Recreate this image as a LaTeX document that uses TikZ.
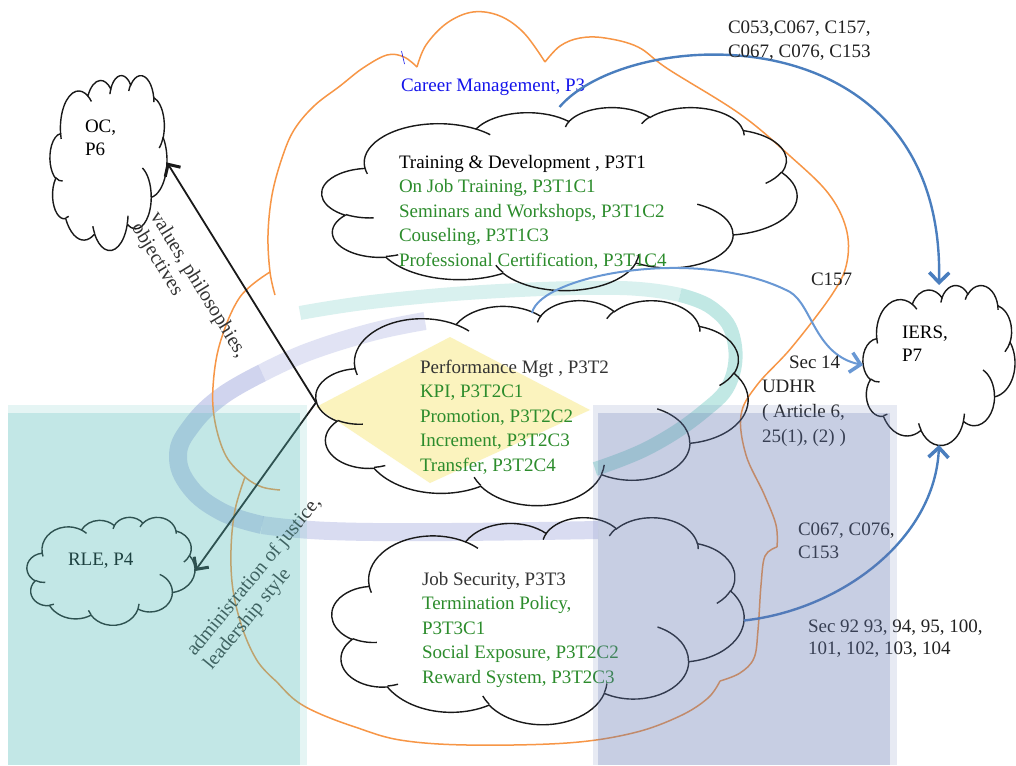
\documentclass[tikz,border=0pt]{standalone}
\usepackage{fontspec}
\setmainfont{Liberation Serif}
\usetikzlibrary{arrows.meta,calc}

\definecolor{orangeline}{RGB}{247,150,70}
\definecolor{blueline}{RGB}{74,126,190}
\definecolor{lightblueline}{RGB}{105,152,212}
\definecolor{itemgreen}{RGB}{44,140,44}
\definecolor{headgray}{RGB}{51,51,51}
\definecolor{labelgray}{RGB}{34,34,34}
\definecolor{careerblue}{RGB}{20,20,235}
\definecolor{tealpanel}{RGB}{86,189,186}
\definecolor{navypanel}{RGB}{98,119,177}
\definecolor{swooshteal}{RGB}{160,220,215}
\definecolor{swooshlav}{RGB}{180,186,228}
\definecolor{diamondyellow}{RGB}{251,243,190}

% one arc of the office-style cloud outline: radii in shape units (box = 4320),
% start and sweep angle measured as seen from the arc's centre
\newcommand\pptarc[4]{%
  arc[start angle={-atan2((#1)*sin(#3),(#2)*cos(#3))},
      delta angle={-mod(atan2((#1)*sin((#3)+(#4)),(#2)*cos((#3)+(#4)))-atan2((#1)*sin(#3),(#2)*cos(#3))+720,360)},
      x radius={(#1)*\cloudsx*1pt}, y radius={(#2)*\cloudsy*1pt}]}

% cloud in a box: node name, left, top, width, height
\newcommand\pptcloud[5]{%
  \pgfmathsetmacro\cloudx{#2}%
  \pgfmathsetmacro\cloudy{#3}%
  \pgfmathsetmacro\cloudsx{(#4)/4320}%
  \pgfmathsetmacro\cloudsy{(#5)/4320}%
  \node[name=#1, cloudbox, minimum width=#4pt, minimum height=#5pt] at ({#2+#4/2},{#3+#5/2}) {};
  \draw[cloudline] (\cloudx+390*\cloudsx,\cloudy+1437*\cloudsy)
    \pptarc{675.3}{919.0}{-190.4875}{123.7805}
    \pptarc{533.3}{726.7}{-144.1024}{89.9452}
    \pptarc{436.5}{594.5}{-145.8079}{99.7230}
    \pptarc{485.7}{659.5}{-130.9861}{117.2417}
    \pptarc{533.3}{727.3}{-78.7089}{109.0269}
    \pptarc{677.5}{922.0}{-46.2673}{130.2690}
    \pptarc{578.5}{786.7}{0.6250}{114.0333}
    \pptarc{675.2}{921.5}{22.4516}{115.1726}
    \pptarc{772.0}{1054.3}{66.2426}{75.7110}
    \pptarc{436.0}{591.8}{-274.9421}{146.7356}
    \pptarc{434.5}{594.5}{-246.8285}{152.5189}
    -- cycle;
  \draw[cloudline]
    (\cloudx+469.3*\cloudsx,\cloudy+2617.7*\cloudsy) \pptarc{434.5}{594.5}{86.7420}{26.4295}
    (\cloudx+692.8*\cloudsx,\cloudy+3489.9*\cloudsy) \pptarc{436.0}{591.8}{73.6105}{11.4475}
    (\cloudx+1647.8*\cloudsx,\cloudy+3909.0*\cloudsy) \pptarc{675.2}{921.5}{137.6242}{14.0811}
    (\cloudx+2882.7*\cloudsx,\cloudy+3475.1*\cloudsy) \pptarc{675.2}{921.5}{6.4533}{15.9984}
    (\cloudx+3412.9*\cloudsx,\cloudy+2295.4*\cloudsy) \pptarc{578.5}{786.7}{-70.2924}{70.9174}
    (\cloudx+4179.8*\cloudsx,\cloudy+1535.4*\cloudsy) \pptarc{533.3}{727.3}{30.3180}{27.7515}
    (\cloudx+3832.4*\cloudsx,\cloudy+542.6*\cloudsy) \pptarc{485.7}{659.5}{-13.7443}{14.8589}
    (\cloudx+2907.8*\cloudsx,\cloudy+395.2*\cloudsy) \pptarc{485.7}{659.5}{-149.1815}{18.1954}
    (\cloudx+2214.1*\cloudsx,\cloudy+472.0*\cloudsy) \pptarc{436.5}{594.5}{-163.4943}{17.6864}
    (\cloudx+1400.0*\cloudsx,\cloudy+519.2*\cloudsy) \pptarc{675.3}{919.0}{-66.7070}{12.3194}
    (\cloudx+412.7*\cloudsx,\cloudy+1578.9*\cloudsy) \pptarc{675.3}{919.0}{157.6544}{11.8582};
}

\tikzset{
  cloudbox/.style={rectangle, draw=none, inner sep=0pt, outer sep=0pt},
  cloudline/.style={draw=black!90, line width=1.4pt},
  bigcloud/.style={draw=orangeline, line width=1.5pt},
  txt/.style={inner sep=0pt, outer sep=0pt, align=left, anchor=north west,
              font=\fontsize{19}{#1}\selectfont},
  txt/.default=24.5,
  blackarrow/.style={draw=black!90, line width=1.8pt,
              -{Straight Barb[length=9pt,width=18pt,line width=3pt]}},
  bluearrow/.style={draw=blueline, line width=2.4pt,
              -{Straight Barb[length=10pt,width=20pt,line width=3.5pt]}},
  lightbluearrow/.style={draw=lightblueline, line width=2pt,
              -{Straight Barb[length=10pt,width=20pt,line width=3.5pt]}},
  swoosh/.style={line cap=butt, line join=round},
}

\begin{document}
\begin{tikzpicture}[x=1pt,y=-1pt]
\useasboundingbox (0,0) rectangle (1016,765);
\fill[white] (0,0) rectangle (1016,765);

% faint ring and diamond behind the middle cloud
\draw[swoosh, swooshteal, line width=14pt, opacity=0.4]
  plot[smooth, tension=0.7] coordinates {(300,313) (380,301) (500,291) (620,288) (680,295)};
\draw[swoosh, swooshteal, line width=14pt, opacity=0.65]
  plot[smooth, tension=0.7] coordinates {(680,295) (712,308) (733,336) (731,380) (703,412) (650,447) (595,469)};
\draw[swoosh, swooshlav, line width=18pt, opacity=0.4]
  plot[smooth, tension=0.7] coordinates {(425,321) (372,332) (308,352) (262,373)};
\draw[swoosh, swooshlav, line width=18pt, opacity=0.62]
  plot[smooth, tension=0.7] coordinates {(262,373) (222,396) (192,425) (178,455) (190,487) (222,512) (262,525)};
\draw[swoosh, swooshlav, line width=18pt, opacity=0.5]
  plot[smooth, tension=0.7] coordinates {(262,525) (330,531) (450,532) (598,530)};
\fill[diamondyellow] (316,407) -- (450,337) -- (590,410) -- (430,483) -- cycle;

% large orange cloud around the three topics
\draw[bigcloud] plot[smooth, tension=0.6] coordinates {(275,295) (270,272) (268,235) (272,195) (282,158) (294,130) (314,106) (340,86) (363,68) (387,55) (404,57) (417,67)};
\draw[bigcloud] plot[smooth, tension=0.6] coordinates {(417,67) (426,45) (447,23) (473,12) (500,16) (524,33) (545,62)};
\draw[bigcloud] plot[smooth, tension=0.6] coordinates {(545,62) (560,46) (580,38) (605,38) (638,47) (668,69) (740,114) (790,156) (828,193) (846,228) (847,262) (833,293) (792,347) (757,385) (741,415) (746,455) (764,494) (776,525) (777,547)};
\draw[bigcloud] plot[smooth, tension=0.6] coordinates {(777,547) (765,556) (761,585) (758,630) (754,658) (740,673) (720,681)};
\draw[bigcloud] plot[smooth, tension=0.6] coordinates {(720,681) (708,698) (680,716) (633,733) (567,743) (467,745) (400,740) (355,727) (318,713) (295,700) (277,682)};
\draw[bigcloud] plot[smooth, tension=0.6] coordinates {(277,682) (258,662) (243,630) (233,590) (231,550) (235,510) (245,477)};
\draw[bigcloud] plot[smooth, tension=0.6] coordinates {(280,490) (262,487) (245,477) (226,456) (215,422) (213,387) (220,343) (240,297) (270,272)};
\draw[careerblue, line width=0.6pt] (401.5,51) -- (404.5,64);

% clouds
\pptcloud{oc}{50}{75}{117}{175}
\pptcloud{rle}{27}{517}{168}{108}
\pptcloud{iers}{863}{285}{152}{160}
\pptcloud{train}{322}{107}{475}{183}
\pptcloud{perf}{316}{300}{432}{205}
\pptcloud{job}{332}{517}{412}{207}

% texts
\node[txt, text=careerblue, name=careerlbl] at (401,79) {Career Management, P3};
\node[txt, name=traintxt] at (399,155) {Training \& Development , P3T1\\
  \textcolor{itemgreen}{On Job Training, P3T1C1}\\
  \textcolor{itemgreen}{Seminars and Workshops, P3T1C2}\\
  \textcolor{itemgreen}{Couseling, P3T1C3}\\
  \textcolor{itemgreen}{Professional Certification, P3T1C4}};
\node[txt, text=headgray, name=perftxt] at (420,360) {Performance Mgt , P3T2\\
  \textcolor{itemgreen}{KPI, P3T2C1}\\
  \textcolor{itemgreen}{Promotion, P3T2C2}\\
  \textcolor{itemgreen}{Increment, P3T2C3}\\
  \textcolor{itemgreen}{Transfer, P3T2C4}};
\node[txt, text=headgray, name=jobtxt] at (422,572) {Job Security, P3T3\\
  \textcolor{itemgreen}{Termination Policy,}\\
  \textcolor{itemgreen}{P3T3C1}\\
  \textcolor{itemgreen}{Social Exposure, P3T2C2}\\
  \textcolor{itemgreen}{Reward System, P3T2C3}};
\node[txt=22.6, name=octxt] at (85,120) {OC,\\P6};
\node[txt=23.4, name=ierstxt] at (902,326) {IERS,\\P7};
\node[txt, name=rletxt] at (68,553) {RLE, P4};

% connectors
\draw[bluearrow] (train.north) .. controls (630,25) and (945,10) .. (iers.north);
\draw[lightbluearrow] ([yshift=-13pt]perf.north) .. controls (540,275) and (700,245) .. (790,292)
  .. controls (812,305) and (815,355) .. (iers.west);
\draw[bluearrow] (job.east) .. controls (840,610) and (935,540) .. (iers.south);
\draw[blackarrow] (perf.west) -- (oc.east);
\draw[blackarrow] (perf.west) -- (rle.east);

% connector labels
\node[txt=23.4, text=labelgray, name=toplbl] at (728,21) {C053,C067, C157,\\C067, C076, C153};
\node[txt, text=labelgray, name=c157lbl] at (811,273) {C157};
\node[txt, text=labelgray, name=sec14lbl] at (789,356) {Sec 14};
\node[txt=25, text=labelgray, name=udhrlbl] at (762,380) {UDHR\\( Article 6,\\25(1), (2) )};
\node[txt=22.7, text=labelgray, name=c067lbl] at (798,523) {C067, C076,\\C153};
\node[txt=21.7, text=labelgray, name=sec92lbl] at (808,620) {Sec 92 93, 94, 95, 100,\\101, 102, 103, 104};
\node[txt=22, text=headgray, rotate=-58.4, font=\fontsize{20}{22}\selectfont, name=valueslbl] at (162,209) {values, philosophies,\\objectives};
\node[txt=22, text=headgray, rotate=50.6, font=\fontsize{20}{22}\selectfont, name=justicelbl] at (184,648) {administration of justice,\\leadership style};

% tinted panels laid over the lower part
\fill[tealpanel, opacity=0.15] (8,405) rectangle (307,765);
\fill[tealpanel, opacity=0.24] (8,413) rectangle (300,765);
\fill[navypanel, opacity=0.15] (593,405) rectangle (897,765);
\fill[navypanel, opacity=0.24] (598,413) rectangle (890,765);
\end{tikzpicture}
\end{document}
